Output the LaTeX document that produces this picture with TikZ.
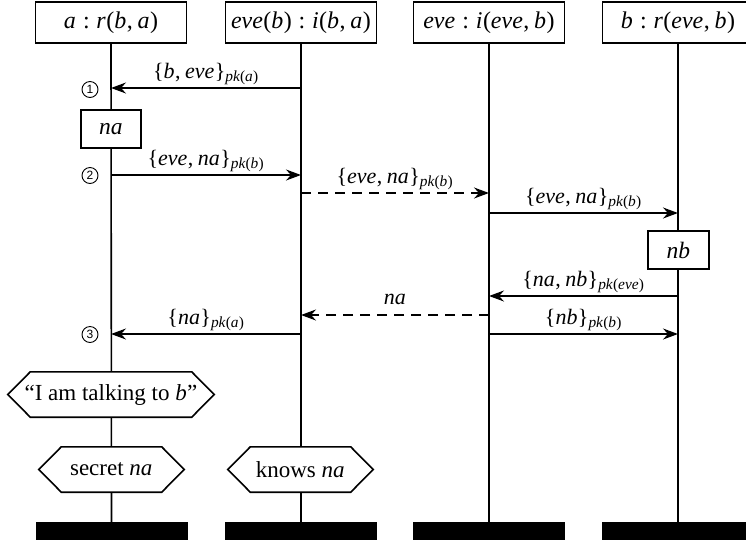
\documentclass[tikz,border=0pt]{standalone}
\usepackage{fontspec}
\setmainfont{Liberation Serif}
\newfontfamily\numfont{Liberation Sans}
\usetikzlibrary{arrows.meta,backgrounds}
\newcommand{\mv}[1]{\textit{#1}\kern0.02em}
\newcommand{\pkk}[1]{\textsubscript{\textit{pk}(#1)}}
\newcommand{\cl}{\hspace{0.28em}:\hspace{0.28em}}
\newcommand{\cm}{,\hspace{0.2em}}
\begin{document}
\begin{tikzpicture}[x=1pt,y=-1pt,
  every node/.style={font=\fontsize{22}{26}\selectfont},
  head/.style={draw, line width=1.6pt, fill=white, minimum width=151pt, minimum height=41pt, inner sep=0pt, font=\fontsize{24}{28}\selectfont},
  bar/.style={fill=black, minimum width=152pt, minimum height=24pt, inner sep=0pt},
  act/.style={draw, line width=1.6pt, fill=white, minimum height=38pt, inner sep=0pt, font=\fontsize{23.5}{28}\selectfont},
  hexa/.style={minimum height=45pt, inner sep=0pt, font=\fontsize{23}{28}\selectfont},
  hexline/.style={draw, fill=white, line width=1.6pt},
  life/.style={line width=1.6pt},
  msg/.style={line width=1.6pt, -{Stealth[length=15pt,width=11pt,inset=5pt]}},
  dmsg/.style={msg, dash pattern=on 10pt off 7pt},
  lab/.style={above=1pt, inner sep=1pt},
  num/.style={circle, draw, line width=0.9pt, minimum size=16pt, inner sep=0pt, font=\numfont\fontsize{12}{12}\selectfont}]
\useasboundingbox (0,0) rectangle (746,539);
% headers
\node[head] (ha) at (111,22.5) {\mv{a}\cl\mv{r}(\mv{b}\cm\mv{a})};
\node[head] (he1) at (301,22.5) {\mv{eve}(\mv{b})\cl\mv{i}(\mv{b}\cm\mv{a})};
\node[head] (he2) at (489,22.5) {\mv{eve}\cl\mv{i}(\mv{eve}\cm\mv{b})};
\node[head] (hb) at (678,22.5) {\mv{b}\cl\mv{r}(\mv{eve}\cm\mv{b})};
% bars
\node[bar] (ba) at (111.5,534) {};
\node[bar] (be1) at (301,534) {};
\node[bar] (be2) at (489,534) {};
\node[bar] (bb) at (678,534) {};
% action boxes
\node[act, minimum width=60pt] (na) at (111,129) {\mv{na}};
\node[act, minimum width=61pt] (nb) at (678.5,250) {\mv{nb}};
% hexagons
\node[hexa, minimum width=206pt] (talk) at (111,394.5) {“I am talking to \mv{b}”};
\node[hexa, minimum width=145pt] (sec) at (111.5,469.5) {secret \mv{na}};
\node[hexa, minimum width=145pt] (kn) at (300.5,469.5) {knows \mv{na}};
% lifelines and hexagon outlines
\begin{scope}[on background layer]
\draw[life] (ha.south) -- (ba.north);
\draw[life] (he1.south) -- (be1.north);
\draw[life] (he2.south) -- (be2.north);
\draw[life] (hb.south) -- (bb.north);
\foreach \h in {talk,sec,kn}{
\draw[hexline] (\h.west) -- ([xshift=22.5pt]\h.north west) -- ([xshift=-22.5pt]\h.north east) -- (\h.east) -- ([xshift=-22.5pt]\h.south east) -- ([xshift=22.5pt]\h.south west) -- cycle;
}
\end{scope}
% message end points
\coordinate (m1s) at (301,88);  \coordinate (m1e) at (111,88);
\coordinate (m2s) at (111,175); \coordinate (m2e) at (301,175);
\coordinate (m3s) at (301,193); \coordinate (m3e) at (489,193);
\coordinate (m4s) at (489,213); \coordinate (m4e) at (678,213);
\coordinate (m5s) at (678,296); \coordinate (m5e) at (489,296);
\coordinate (m6s) at (489,315); \coordinate (m6e) at (301,315);
\coordinate (m7s) at (489,334); \coordinate (m7e) at (678,334);
\coordinate (m8s) at (301,334); \coordinate (m8e) at (111,334);
% messages
\draw[msg] (m1s) -- node[lab] {\{\mv{b}\cm\mv{eve}\}\pkk{\mv{a}}} (m1e);
\draw[msg] (m2s) -- node[lab] {\{\mv{eve}\cm\mv{na}\}\pkk{\mv{b}}} (m2e);
\draw[dmsg] (m3s) -- node[lab] {\{\mv{eve}\cm\mv{na}\}\pkk{\mv{b}}} (m3e);
\draw[msg] (m4s) -- node[lab] {\{\mv{eve}\cm\mv{na}\}\pkk{\mv{b}}} (m4e);
\draw[msg] (m5s) -- node[lab] {\{\mv{na}\cm\mv{nb}\}\pkk{\mv{eve}}} (m5e);
\draw[dmsg] (m6s) -- node[lab, above=7pt] {\mv{na}} (m6e);
\draw[msg] (m7s) -- node[lab] {\{\mv{nb}\}\pkk{\mv{b}}} (m7e);
\draw[msg] (m8s) -- node[lab] {\{\mv{na}\}\pkk{\mv{a}}} (m8e);
% step numbers
\node[num] (n1) at (90,89.5) {1};
\node[num] (n2) at (90,175.5) {2};
\node[num] (n3) at (90,334.5) {3};
\end{tikzpicture}
\end{document}
